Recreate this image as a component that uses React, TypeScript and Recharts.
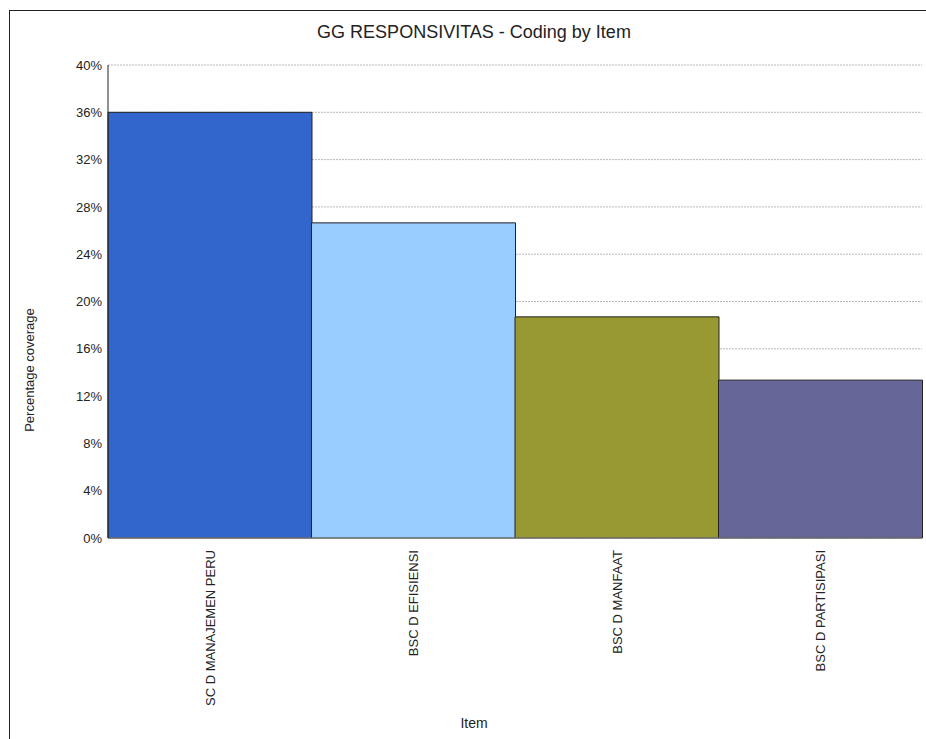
import React from "react";
import { BarChart, Bar, XAxis, YAxis, CartesianGrid, Cell, Label } from "recharts";

const items = [
  "SC D MANAJEMEN PERU",
  "BSC D EFISIENSI",
  "BSC D MANFAAT",
  "BSC D PARTISIPASI",
];
const coverage = [36.0, 26.65, 18.7, 13.35];
const barColors = ["#3366CC", "#99CCFF", "#999933", "#666699"];
const yTicks = [0, 4, 8, 12, 16, 20, 24, 28, 32, 36, 40];

const data = items.map((item, i) => ({ item, coverage: coverage[i] }));

const font = "'Liberation Sans', Arial, sans-serif";

function ItemTick(props: any) {
  const { x, y, payload } = props;
  return (
    <text
      x={0}
      y={0}
      transform={`translate(${x + 5},${y + 4}) rotate(-90)`}
      textAnchor="end"
      fontSize={13}
      fontFamily={font}
      fill="#222"
    >
      {payload.value}
    </text>
  );
}

export default function App() {
  return (
    <div
      style={{
        position: "absolute",
        left: 0,
        top: 0,
        width: 926,
        height: 739,
        background: "#fff",
        fontFamily: font,
      }}
    >
      <div
        style={{
          position: "absolute",
          left: 9,
          top: 10,
          right: -2,
          bottom: -2,
          border: "1.5px solid #222",
        }}
      />
      <div
        style={{
          position: "absolute",
          left: 0,
          width: 926,
          top: 22,
          textAlign: "center",
          fontSize: 18,
          lineHeight: "21px",
          color: "#222",
          paddingLeft: 22,
          boxSizing: "border-box",
        }}
      >
        GG RESPONSIVITAS - Coding by Item
      </div>
      <div style={{ position: "absolute", left: 0, top: 0 }}>
        <BarChart
          width={926}
          height={739}
          data={data}
          margin={{ top: 65, right: 4, bottom: 31, left: 48 }}
          barCategoryGap={0}
        >
          <CartesianGrid
            vertical={false}
            stroke="#b8b8b8"
            strokeDasharray="2 1"
          />
          <XAxis
            dataKey="item"
            height={170}
            tick={<ItemTick />}
            tickLine={false}
            axisLine={{ stroke: "#888" }}
            interval={0}
          >
            <Label
              content={() => (
                <text
                  x={474}
                  y={728}
                  textAnchor="middle"
                  fontSize={14}
                  fontFamily={font}
                  fill="#222"
                >
                  Item
                </text>
              )}
            />
          </XAxis>
          <YAxis
            width={60}
            domain={[0, 40]}
            ticks={yTicks}
            tickFormatter={(v: number) => `${v}%`}
            tick={{ fontSize: 13, fill: "#222", fontFamily: font }}
            tickLine={false}
            tickSize={0}
            axisLine={{ stroke: "#222" }}
            tickMargin={6}
          >
            <Label
              content={() => (
                <text
                  x={0}
                  y={0}
                  transform="translate(34,370) rotate(-90)"
                  textAnchor="middle"
                  fontSize={13}
                  fontFamily={font}
                  fill="#222"
                >
                  Percentage coverage
                </text>
              )}
            />
          </YAxis>
          <Bar
            dataKey="coverage"
            stroke="#222"
            strokeWidth={1}
            isAnimationActive={false}
          >
            {data.map((d, i) => (
              <Cell key={d.item} fill={barColors[i]} />
            ))}
          </Bar>
        </BarChart>
      </div>
    </div>
  );
}
